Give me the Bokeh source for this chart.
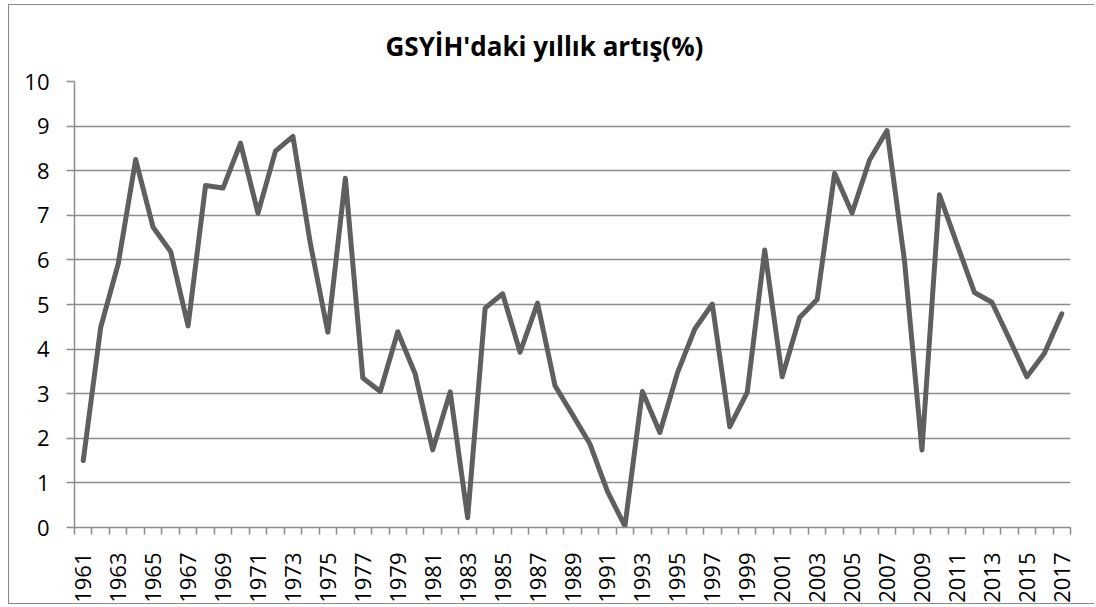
from bokeh.plotting import figure
from bokeh.models import Range1d, FixedTicker
from bokeh.embed import file_html
from bokeh.resources import INLINE

title_text = "GSYİH'daki yıllık artış(%)"
years = list(range(1961, 2018))
growth = [1.50, 4.49, 5.91, 8.25, 6.73, 6.19, 4.52, 7.67, 7.61, 8.62,
          7.05, 8.44, 8.77, 6.36, 4.38, 7.83, 3.35, 3.05, 4.39, 3.44,
          1.74, 3.04, 0.22, 4.92, 5.24, 3.93, 5.03, 3.18, 2.53, 1.87,
          0.81, 0.03, 3.05, 2.13, 3.46, 4.45, 5.01, 2.26, 3.03, 6.22,
          3.38, 4.71, 5.11, 7.94, 7.05, 8.24, 8.90, 5.98, 1.74, 7.46,
          6.36, 5.27, 5.05, 4.23, 3.38, 3.90, 4.79]
label_years = years[::2]
y_ticks = [0, 1, 2, 3, 4, 5, 6, 7, 8, 9, 10]

GRID = "#8c8c8c"
FONT = "Open Sans"

p = figure(width=1086, height=600, output_backend="svg", toolbar_location=None,
           x_range=Range1d(years[0] - 0.5, years[-1] + 0.5), y_range=Range1d(0, 10),
           min_border_left=65, min_border_right=25, min_border_top=76, min_border_bottom=77)
p.styles = {"margin-left": "8px", "margin-top": "4px",
            "border-left": "1px solid #8a8a8a", "border-top": "1px solid #8a8a8a",
            "border-bottom": "1px solid #8a8a8a", "border-right": "none"}
p.outline_line_color = None
p.background_fill_color = "white"
p.border_fill_color = "white"

p.title.text = title_text
p.title.align = "left"
p.title.offset = 311
p.title.standoff = 35
p.title.text_font = FONT
p.title.text_font_style = "bold"
p.title.text_font_size = "26px"
p.title.text_color = "#000000"

p.line(years, growth, line_color="#5f5f5f", line_width=5, line_join="round", line_cap="round")

# x axis
xa = p.xaxis[0]
xa.ticker = FixedTicker(ticks=label_years, minor_ticks=[y - 0.5 for y in years] + [years[-1] + 0.5])
xa.major_tick_out = 0
xa.major_tick_in = 0
xa.minor_tick_out = 7
xa.minor_tick_in = 0
xa.minor_tick_line_color = GRID
xa.minor_tick_line_width = 1.5
xa.axis_line_color = GRID
xa.axis_line_width = 1.5
xa.major_label_orientation = 1.5707963
xa.major_label_standoff = 18
xa.major_label_text_font = FONT
xa.major_label_text_font_size = "22px"
xa.major_label_text_color = "#000000"

# y axis
ya = p.yaxis[0]
ya.ticker = FixedTicker(ticks=y_ticks)
ya.major_tick_out = 8
ya.major_tick_in = 0
ya.minor_tick_out = 0
ya.minor_tick_in = 0
ya.major_tick_line_color = GRID
ya.major_tick_line_width = 1.5
ya.axis_line_color = GRID
ya.axis_line_width = 1.5
ya.major_label_standoff = 17
ya.major_label_text_font = FONT
ya.major_label_text_font_size = "22px"
ya.major_label_text_color = "#000000"

p.xgrid.grid_line_color = None
p.ygrid.ticker = FixedTicker(ticks=y_ticks[1:])
p.ygrid.grid_line_color = GRID
p.ygrid.grid_line_width = 1.5

open("out.html", "w").write(file_html(p, INLINE))
